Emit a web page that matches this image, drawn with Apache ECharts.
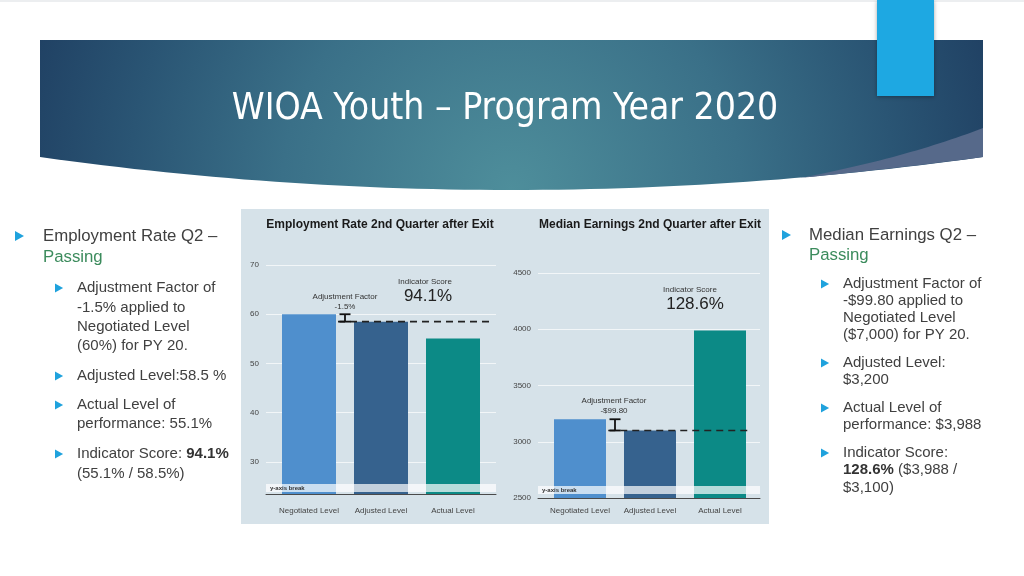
<!DOCTYPE html>
<html>
<head>
<meta charset="utf-8">
<script src="https://cdn.jsdelivr.net/npm/echarts@6/dist/echarts.min.js"></script>
<style>
html,body{margin:0;padding:0;background:#fff;}
#c{width:1024px;height:576px;}
</style>
</head>
<body>
<div id="c"></div>
<script>
// ---- data ----
const categories = ['Negotiated Level', 'Adjusted Level', 'Actual Level'];
const empValues = [60, 58.5, 55.1];          // Employment Rate Q2 (%)
const earnValues = [3200, 3100, 3988];       // Median Earnings Q2 ($)
const empAxis = { min: 23.5, max: 70 };
const earnAxis = { min: 2500, max: 4500, interval: 500 };
const empAnn = { adj: '-1.5%', score: '94.1%' };
const earnAnn = { adj: '-$99.80', score: '128.6%' };

const barColors = ['#4f8fcd', '#36628e', '#0c8a86'];
const txt = '#404040';
const green = '#3b8b5c';
const bulletBlue = '#1fa2dd';
const bodyFont = '"Liberation Sans", Arial, sans-serif';

const chart = echarts.init(document.getElementById('c'), null, { renderer: 'canvas' });

function refRender(offsetEnd) {
  return function (params, api) {
    const neg = api.value(1), adj = api.value(2);
    const band = api.size([1, 0])[0];
    const p0 = api.coord([0, neg]);
    const p1 = api.coord([0, adj]);
    const barHalf = band * 0.375;
    const xi = p0[0] + band / 2;
    const cs = params.coordSys;
    return {
      type: 'group',
      children: [
        { type: 'line', shape: { x1: p0[0] + barHalf + 2, y1: p1[1], x2: cs.x + cs.width + offsetEnd, y2: p1[1] },
          style: { stroke: '#222', lineWidth: 1.6, lineDash: [7, 5] } },
        { type: 'line', shape: { x1: xi, y1: p0[1], x2: xi, y2: p1[1] }, style: { stroke: '#111', lineWidth: 1.8 } },
        { type: 'line', shape: { x1: xi - 5.5, y1: p0[1], x2: xi + 5.5, y2: p0[1] }, style: { stroke: '#111', lineWidth: 1.8 } },
        { type: 'line', shape: { x1: xi - 5.5, y1: p1[1], x2: xi + 5.5, y2: p1[1] }, style: { stroke: '#111', lineWidth: 1.8 } }
      ]
    };
  };
}

// quadratic curve sampler for decorative shapes
function quad(p0, c, p1, n) {
  const pts = [];
  for (let i = 0; i <= n; i++) {
    const s = i / n, a = (1 - s) * (1 - s), b = 2 * s * (1 - s), d = s * s;
    pts.push([a * p0[0] + b * c[0] + d * p1[0], a * p0[1] + b * c[1] + d * p1[1]]);
  }
  return pts;
}
const bannerPts = [[40, 40], [983, 40]].concat(quad([983, 157], [511, 223], [40, 157], 60));
const stripPts = quad([983, 128], [905, 158], [800, 178], 30).concat(quad([800, 178], [900, 168], [983, 157], 30));

function tri(x, y, s) {
  return { type: 'polygon', z: 5, shape: { points: [[x, y - s], [x + s * 1.8, y], [x, y + s]] }, style: { fill: bulletBlue } };
}
function t(x, y, text, size, fill) {
  return { type: 'text', z: 5, x: x, y: y,
    style: { text: text, font: size + 'px ' + bodyFont, fill: fill || txt, verticalAlign: 'middle', align: 'left' } };
}
function rt(x, y, text, rich) {
  return { type: 'text', z: 5, x: x, y: y, style: { text: text, rich: rich, verticalAlign: 'middle', align: 'left' } };
}
function ct(x, y, text, size, fill) {
  return { type: 'text', z: 12, x: x, y: y,
    style: { text: text, font: size + 'px ' + bodyFont, fill: fill || '#333', verticalAlign: 'middle', align: 'center' } };
}
const H = 16.8, B = 15;

const graphics = [
  { type: 'rect', z: -20, shape: { x: 0, y: 0, width: 1024, height: 2 }, style: { fill: '#eceef0' } },
  { type: 'polygon', z: -10, shape: { points: bannerPts },
    style: { fill: { type: 'radial', x: 0.5, y: 1.0, r: 3.4, colorStops: [
      { offset: 0, color: '#4e8e9b' }, { offset: 0.45, color: '#3a7088' }, { offset: 0.75, color: '#2a5574' }, { offset: 1, color: '#1f3f62' }] } } },
  { type: 'polygon', z: -9, shape: { points: stripPts }, style: { fill: '#56698a' } },
  { type: 'rect', z: -8, shape: { x: 877, y: 0, width: 57, height: 96 },
    style: { fill: '#1ea8e2', shadowBlur: 4, shadowColor: 'rgba(0,0,0,0.35)', shadowOffsetY: 1 } },
  { type: 'text', z: -7, x: 505, y: 109,
    style: { text: 'WIOA Youth – Program Year 2020', font: '37px "Liberation Sans Narrow", "DejaVu Sans Condensed", sans-serif',
      fill: '#ffffff', align: 'center', verticalAlign: 'middle' } },
  { type: 'rect', z: -5, shape: { x: 241, y: 209, width: 528, height: 315 }, style: { fill: '#d6e2e9' } },
  { type: 'rect', z: 10, shape: { x: 266, y: 484, width: 230, height: 8 }, style: { fill: 'rgba(255,255,255,0.7)' } },
  { type: 'text', z: 11, x: 270, y: 488, style: { text: 'y-axis break', font: 'bold 6px ' + bodyFont, fill: '#333', verticalAlign: 'middle' } },
  { type: 'rect', z: 10, shape: { x: 538, y: 486, width: 222, height: 8 }, style: { fill: 'rgba(255,255,255,0.7)' } },
  { type: 'text', z: 11, x: 542, y: 490, style: { text: 'y-axis break', font: 'bold 6px ' + bodyFont, fill: '#333', verticalAlign: 'middle' } },
  ct(345, 297, 'Adjustment Factor', 8), ct(345, 307, empAnn.adj, 8),
  ct(425, 282, 'Indicator Score', 8), ct(428, 296, empAnn.score, 17, '#222'),
  ct(614, 401, 'Adjustment Factor', 8), ct(614, 411, earnAnn.adj, 8),
  ct(690, 290, 'Indicator Score', 8), ct(695, 304, earnAnn.score, 17, '#222'),

  tri(15, 236, 5), t(43, 236, 'Employment Rate Q2 –', H), t(43, 257, 'Passing', H, green),
  tri(55, 288, 4.5),
  t(77, 288, 'Adjustment Factor of', B), t(77, 308, '-1.5% applied to', B),
  t(77, 327, 'Negotiated Level', B), t(77, 346, '(60%) for PY 20.', B),
  tri(55, 376, 4.5), t(77, 376, 'Adjusted Level:58.5 %', B),
  tri(55, 405, 4.5), t(77, 405, 'Actual Level of', B), t(77, 424, 'performance: 55.1%', B),
  tri(55, 454, 4.5),
  rt(77, 454, '{n|Indicator Score: }{b|94.1%}', {
    n: { font: B + 'px ' + bodyFont, fill: txt }, b: { font: 'bold ' + B + 'px ' + bodyFont, fill: '#333' } }),
  t(77, 474, '(55.1% / 58.5%)', B),

  tri(782, 235, 5), t(809, 235, 'Median Earnings Q2 –', H), t(809, 255, 'Passing', H, green),
  tri(821, 284, 4.5),
  t(843, 284, 'Adjustment Factor of', B), t(843, 301, '-$99.80 applied to', B),
  t(843, 318, 'Negotiated Level', B), t(843, 335, '($7,000) for PY 20.', B),
  tri(821, 363, 4.5), t(843, 363, 'Adjusted Level:', B), t(843, 380, '$3,200', B),
  tri(821, 408, 4.5), t(843, 408, 'Actual Level of', B), t(843, 425, 'performance: $3,988', B),
  tri(821, 453, 4.5), t(843, 453, 'Indicator Score:', B),
  rt(843, 470, '{b|128.6%}{n| ($3,988 /}', {
    n: { font: B + 'px ' + bodyFont, fill: txt }, b: { font: 'bold ' + B + 'px ' + bodyFont, fill: '#333' } }),
  t(843, 488, '$3,100)', B)
];

const axisLabelStyle = { fontSize: 8, color: '#444', fontFamily: bodyFont };
const plain = v => String(v);

const option = {
  animation: false,
  title: [
    { text: 'Employment Rate 2nd Quarter after Exit', left: 375, top: 214, textAlign: 'center',
      textStyle: { fontSize: 12, fontWeight: 'bold', color: '#1a1a1a', fontFamily: bodyFont } },
    { text: 'Median Earnings 2nd Quarter after Exit', left: 645, top: 214, textAlign: 'center',
      textStyle: { fontSize: 12, fontWeight: 'bold', color: '#1a1a1a', fontFamily: bodyFont } }
  ],
  grid: [
    { left: 266, right: 1024 - 496, top: 265, bottom: 576 - 494 },
    { left: 273, right: 1024 - 489, top: 265, bottom: 576 - 494 },
    { left: 538, right: 1024 - 760, top: 273, bottom: 576 - 498 },
    { left: 545, right: 1024 - 755, top: 273, bottom: 576 - 498 }
  ],
  xAxis: [
    { gridIndex: 0, type: 'value', min: 0, max: 1, axisLabel: { show: false }, splitLine: { show: false },
      axisTick: { show: false }, axisLine: { show: true, lineStyle: { color: '#4a4a4a', width: 1 } } },
    { gridIndex: 1, type: 'category', data: categories, axisLine: { show: false }, axisTick: { show: false },
      axisLabel: Object.assign({ margin: 13, interval: 0 }, axisLabelStyle) },
    { gridIndex: 2, type: 'value', min: 0, max: 1, axisLabel: { show: false }, splitLine: { show: false },
      axisTick: { show: false }, axisLine: { show: true, lineStyle: { color: '#4a4a4a', width: 1 } } },
    { gridIndex: 3, type: 'category', data: categories, axisLine: { show: false }, axisTick: { show: false },
      axisLabel: Object.assign({ margin: 9, interval: 0 }, axisLabelStyle) }
  ],
  yAxis: [
    { gridIndex: 0, type: 'value', min: empAxis.min, max: empAxis.max, splitNumber: 5,
      axisLine: { show: false }, axisTick: { show: false },
      axisLabel: Object.assign({ margin: 7, showMinLabel: false, formatter: plain }, axisLabelStyle),
      splitLine: { show: true, lineStyle: { color: '#f2f6f8', width: 1.2 } } },
    { gridIndex: 1, type: 'value', min: empAxis.min, max: empAxis.max, show: false, splitLine: { show: false } },
    { gridIndex: 2, type: 'value', min: earnAxis.min, max: earnAxis.max, interval: earnAxis.interval,
      axisLine: { show: false }, axisTick: { show: false },
      axisLabel: Object.assign({ margin: 7, formatter: plain }, axisLabelStyle),
      splitLine: { show: true, lineStyle: { color: '#f2f6f8', width: 1.2 } } },
    { gridIndex: 3, type: 'value', min: earnAxis.min, max: earnAxis.max, show: false, splitLine: { show: false } }
  ],
  series: [
    { type: 'bar', xAxisIndex: 1, yAxisIndex: 1, barWidth: 54, z: 3,
      data: empValues.map((v, i) => ({ value: v, itemStyle: { color: barColors[i] } })) },
    { type: 'custom', xAxisIndex: 1, yAxisIndex: 1, z: 6, renderItem: refRender(3),
      encode: { x: 0, y: [1, 2] }, data: [[0, empValues[0], empValues[1]]] },
    { type: 'bar', xAxisIndex: 3, yAxisIndex: 3, barWidth: 52, z: 3,
      data: earnValues.map((v, i) => ({ value: v, itemStyle: { color: barColors[i] } })) },
    { type: 'custom', xAxisIndex: 3, yAxisIndex: 3, z: 6, renderItem: refRender(-3),
      encode: { x: 0, y: [1, 2] }, data: [[0, earnValues[0], earnValues[1]]] }
  ],
  graphic: { elements: graphics }
};
chart.setOption(option);
</script>
</body>
</html>
